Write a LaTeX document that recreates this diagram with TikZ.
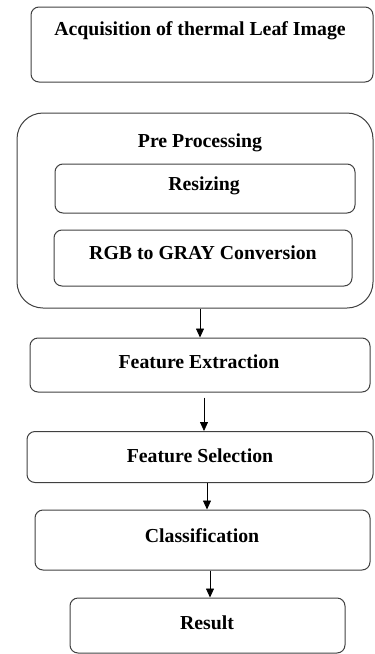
\documentclass[tikz,border=0pt]{standalone}
\usepackage{fontspec}
\setmainfont{Liberation Serif}
\usetikzlibrary{arrows.meta}
\definecolor{edge}{HTML}{404040}
\tikzset{
  box/.style={draw=edge, line width=1pt, rounded corners=8pt, minimum width=#1, inner sep=0pt},
  lbl/.style={font=\bfseries\fontsize{19.8}{22}\selectfont, inner sep=0pt, anchor=center},
  arr/.style={draw=black, line width=0.8pt, -{Triangle[length=9pt,width=8pt]}}
}
\begin{document}
\begin{tikzpicture}[x=1pt,y=-1pt]
\useasboundingbox (0,0) rectangle (375,654);
% boxes
\node[box=342pt, minimum height=75pt] (acq) at (202,44.5) {};
\node[box=356pt, minimum height=195pt, rounded corners=26pt] (pp) at (195,210.5) {};
\node[box=300pt, minimum height=49pt] (rs) at (205,188.5) {};
\node[box=298pt, minimum height=56pt] (rgb) at (203,258) {};
\node[box=340pt, minimum height=54pt] (fe) at (200,365) {};
\node[box=346pt, minimum height=51pt] (fs) at (200,457) {};
\node[box=335pt, minimum height=60pt] (cl) at (202.5,540) {};
\node[box=275pt, minimum height=55pt] (rs2) at (207.5,625.5) {};
% labels
\node[lbl] (tacq) at (200,31) {Acquisition of thermal Leaf Image};
\node[lbl] (tpp) at (200,143) {Pre Processing};
\node[lbl] (trs) at (204,186) {Resizing};
\node[lbl] (trgb) at (203,253) {RGB to GRAY Conversion};
\node[lbl] (tfe) at (199,362) {Feature Extraction};
\node[lbl] (tfs) at (200,456) {Feature Selection};
\node[lbl] (tcl) at (202,536) {Classification};
\node[lbl] (tres) at (207,623) {Result};
% arrow columns
\coordinate (a1) at (200,0);
\coordinate (a2) at (204,0);
\coordinate (a3) at (207,0);
\coordinate (a4) at (210,0);
\draw[arr] (pp.south -| a1) -- (fe.north -| a1);
\draw[arr, shorten <=5pt] (fe.south -| a2) -- (fs.north -| a2);
\draw[arr] (fs.south -| a3) -- (cl.north -| a3);
\draw[arr] (cl.south -| a4) -- (rs2.north -| a4);
\end{tikzpicture}
\end{document}
